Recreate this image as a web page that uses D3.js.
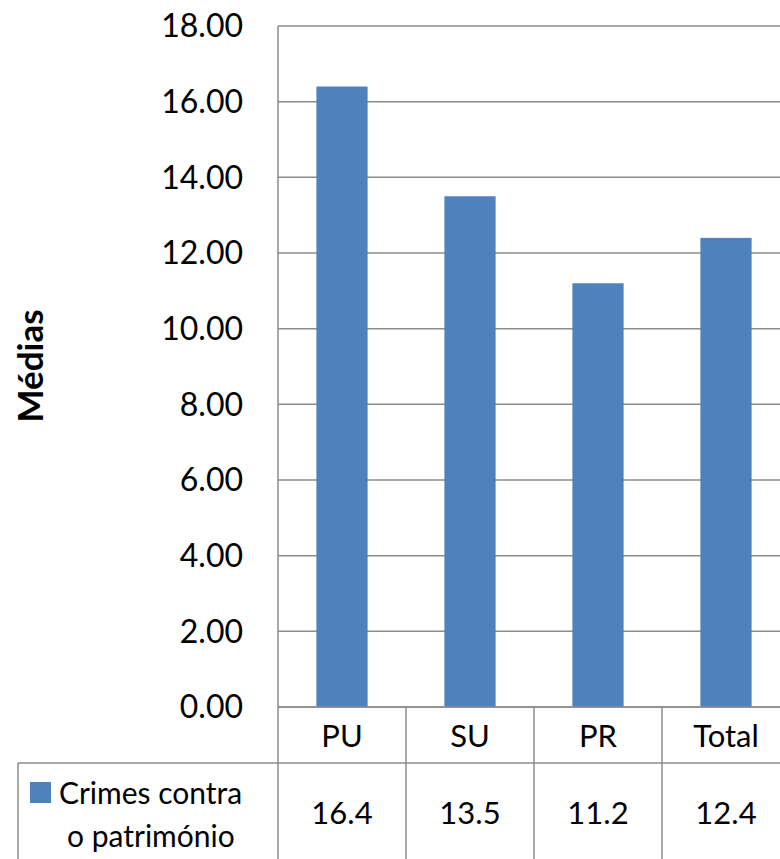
<!DOCTYPE html>
<html>
<head>
<meta charset="utf-8">
<script src="https://cdn.jsdelivr.net/npm/d3@7"></script>
<style>
  body { margin: 0; background: #fff; }
  text { font-family: Lato, "Open Sans", sans-serif; fill: #000; }
</style>
</head>
<body>
<svg id="chart" width="780" height="859"></svg>
<script>
// data
var categories = ["PU", "SU", "PR", "Total"];
var values = [16.4, 13.5, 11.2, 12.4];
var valueLabels = ["16.4", "13.5", "11.2", "12.4"];
var yTicks = [0, 2, 4, 6, 8, 10, 12, 14, 16, 18];
var seriesName = ["Crimes contra", "o património"];
var axisTitle = "Médias";

var width = 780, height = 859;
var plotLeft = 278, plotTop = 26, plotBottom = 707, step = 128;

var svg = d3.select("#chart");

// scales
var xCell = d3.scaleBand()
    .domain(categories)
    .range([plotLeft, plotLeft + step * categories.length]);

var xBar = d3.scaleBand()
    .domain(categories)
    .range([plotLeft, plotLeft + step * categories.length])
    .paddingInner(0.6)
    .paddingOuter(0.3);

var y = d3.scaleLinear()
    .domain([0, 18])
    .range([plotBottom, plotTop]);

var gridColor = "#8c8c8c";

// gridlines
svg.append("g")
    .selectAll("line")
    .data(yTicks)
    .enter()
    .append("line")
    .attr("x1", plotLeft)
    .attr("x2", width + 20)
    .attr("y1", function (d) { return y(d); })
    .attr("y2", function (d) { return y(d); })
    .attr("stroke", gridColor)
    .attr("stroke-width", 1.5);

// y tick labels
svg.append("g")
    .selectAll("text")
    .data(yTicks)
    .enter()
    .append("text")
    .attr("x", 243)
    .attr("y", function (d) { return y(d); })
    .attr("dy", "0.35em")
    .attr("text-anchor", "end")
    .style("font-size", "32px")
    .text(function (d) { return d3.format(".2f")(d); });

// axis title
svg.append("text")
    .attr("transform", "translate(43,366) rotate(-90)")
    .attr("text-anchor", "middle")
    .style("font-size", "35px")
    .style("font-weight", "bold")
    .text(axisTitle);

// bars
svg.append("g")
    .selectAll("rect")
    .data(values)
    .enter()
    .append("rect")
    .attr("x", function (d, i) { return xBar(categories[i]); })
    .attr("width", xBar.bandwidth())
    .attr("y", function (d) { return y(d); })
    .attr("height", function (d) { return y(0) - y(d); })
    .attr("fill", "#4f81bd");

// value axis line
svg.append("line")
    .attr("x1", plotLeft).attr("x2", plotLeft)
    .attr("y1", plotTop).attr("y2", height)
    .attr("stroke", gridColor)
    .attr("stroke-width", 1.5);

// data table
var rowTop = 763;
var table = svg.append("g");

table.append("line")
    .attr("x1", plotLeft).attr("x2", width + 20)
    .attr("y1", plotBottom).attr("y2", plotBottom)
    .attr("stroke", gridColor).attr("stroke-width", 1.5);
table.append("line")
    .attr("x1", 18).attr("x2", width + 20)
    .attr("y1", rowTop).attr("y2", rowTop)
    .attr("stroke", gridColor).attr("stroke-width", 1.5);
table.append("line")
    .attr("x1", 18).attr("x2", 18)
    .attr("y1", rowTop).attr("y2", height)
    .attr("stroke", gridColor).attr("stroke-width", 1.5);

// column separators
table.selectAll(".sep")
    .data(categories.slice(1))
    .enter()
    .append("line")
    .attr("x1", function (d) { return xCell(d); })
    .attr("x2", function (d) { return xCell(d); })
    .attr("y1", plotBottom)
    .attr("y2", height)
    .attr("stroke", gridColor)
    .attr("stroke-width", 1.5);

// category labels
table.selectAll(".cat")
    .data(categories)
    .enter()
    .append("text")
    .attr("x", function (d) { return xCell(d) + xCell.bandwidth() / 2; })
    .attr("y", 736)
    .attr("dy", "0.35em")
    .attr("text-anchor", "middle")
    .style("font-size", "31px")
    .text(function (d) { return d; });

// values
table.selectAll(".val")
    .data(valueLabels)
    .enter()
    .append("text")
    .attr("x", function (d, i) { return xCell(categories[i]) + xCell.bandwidth() / 2; })
    .attr("y", 813)
    .attr("dy", "0.35em")
    .attr("text-anchor", "middle")
    .style("font-size", "31px")
    .text(function (d) { return d; });

// legend key
table.append("rect")
    .attr("x", 30)
    .attr("y", 782)
    .attr("width", 21)
    .attr("height", 21)
    .attr("fill", "#4f81bd");

table.selectAll(".leg")
    .data(seriesName)
    .enter()
    .append("text")
    .attr("x", function (d, i) { return i === 0 ? 59 : 67; })
    .attr("y", function (d, i) { return 793 + i * 43; })
    .attr("dy", "0.35em")
    .style("font-size", "30px")
    .text(function (d) { return d; });
</script>
</body>
</html>
